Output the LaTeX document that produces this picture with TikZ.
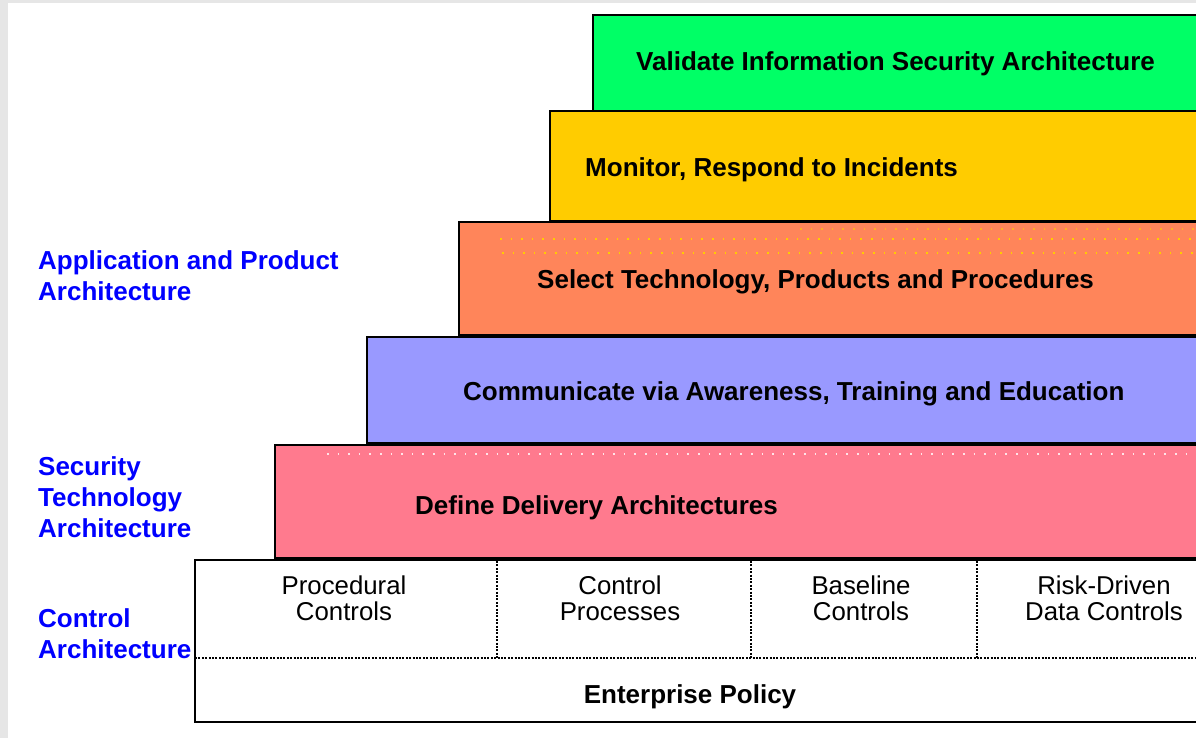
\documentclass[tikz,border=0pt]{standalone}
\usepackage{fontspec}
\setmainfont{Liberation Sans}
\definecolor{tiergreen}{HTML}{00FF66}
\definecolor{tieryellow}{HTML}{FFCC00}
\definecolor{tierorange}{HTML}{FF855A}
\definecolor{tierblue}{HTML}{9999FF}
\definecolor{tierpink}{HTML}{FF7A8E}
\definecolor{labelblue}{HTML}{0000FF}
\definecolor{frame}{HTML}{E6E6E6}
\begin{document}
\begin{tikzpicture}[x=1pt,y=-1pt,
  tier/.style={draw=black,line width=2pt},
  tiertext/.style={font=\fontsize{26}{31}\selectfont\bfseries,anchor=base west,inner sep=0pt},
  sidelabel/.style={font=\fontsize{26}{31}\selectfont\bfseries,text=labelblue,align=left,anchor=north west,inner sep=0pt},
  ctrltext/.style={font=\fontsize{25.8}{26}\selectfont,align=center,anchor=north,inner sep=0pt},
  sep/.style={line width=1.3pt,dash pattern=on 2pt off 1.4pt},
  speckle/.style={line width=1.6pt,dash pattern=on 1.6pt off 9pt}]
\clip (0,0) rectangle (1196,738);
\fill[white] (0,0) rectangle (1196,738);
% page frame
\fill[frame] (0,0) rectangle (1196,3);
\fill[frame] (0,0) rectangle (8,738);

% stacked tiers, widest at the bottom
\draw[tier,fill=white] (195,560) rectangle (1210,722);
\draw[tier,fill=tierpink] (275,445) rectangle (1210,558);
\draw[tier,fill=tierblue] (367,337) rectangle (1210,443);
\draw[tier,fill=tierorange] (459,222) rectangle (1210,335);
\draw[tier,fill=tieryellow] (550,111) rectangle (1210,221);
\draw[tier,fill=tiergreen] (593,15) rectangle (1210,111);

% faint speckle rows
\draw[speckle,draw=tieryellow] (500,239) -- (1200,239);
\draw[speckle,draw=tieryellow] (502,253) -- (1200,253);
\draw[speckle,draw=tieryellow!60!tierorange] (800,229) -- (1200,229);
\draw[speckle,draw=white!80!tierpink] (327,454) -- (1200,454);

% control grid
\coordinate (gl) at (195,658);
\coordinate (gr) at (1200,658);
\draw[sep] (gl) -- (gr);
\foreach \xx in {497,751,977}{
  \draw[sep] (\xx,561) -- (\xx,658);
}

% tier titles
\node[tiertext] (validate) at (636,71) {Validate Information Security Architecture};
\node[tiertext] (monitor) at (585,177) {Monitor, Respond to Incidents};
\node[tiertext] (select) at (537,288) {Select Technology, Products and Procedures};
\node[tiertext] (communicate) at (463,400) {Communicate via Awareness, Training and Education};
\node[tiertext] (define) at (415,514) {Define Delivery Architectures};
\node[tiertext,anchor=base] (policy) at (690,703) {Enterprise Policy};

% control cells
\node[ctrltext] (procedural) at (344,576) {Procedural\\Controls};
\node[ctrltext] (processes) at (620,576) {Control\\Processes};
\node[ctrltext] (baseline) at (861,576) {Baseline\\Controls};
\node[ctrltext] (riskdriven) at (1104,576) {Risk-Driven\\Data Controls};

% architecture levels
\node[sidelabel] (appl) at (38,250) {Application and Product\\Architecture};
\node[sidelabel] (sectech) at (38,456) {Security\\Technology\\Architecture};
\node[sidelabel] (ctrlarch) at (38,608) {Control\\Architecture};
\end{tikzpicture}
\end{document}
